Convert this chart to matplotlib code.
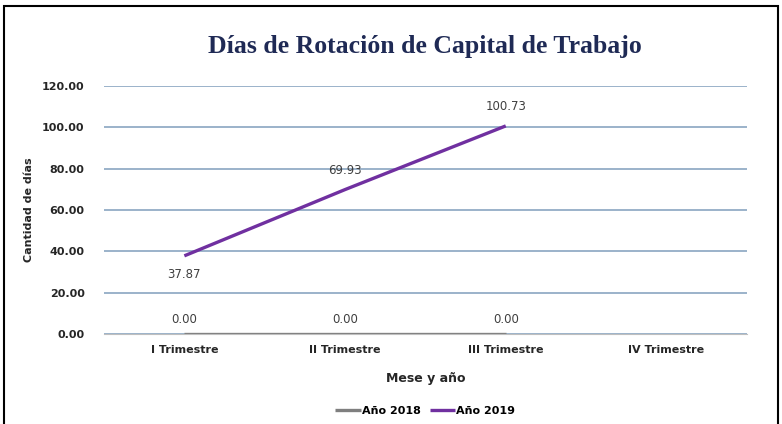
import matplotlib.pyplot as plt
from matplotlib.patches import Rectangle

# Datos
trimestres = ['I Trimestre', 'II Trimestre', 'III Trimestre', 'IV Trimestre']
anio_2018 = [0.00, 0.00, 0.00]
anio_2019 = [37.87, 69.93, 100.73]
yticks = [0, 20, 40, 60, 80, 100, 120]

fig = plt.figure(figsize=(7.82, 4.24), dpi=100)
ax = fig.add_axes([0.133, 0.212, 0.822, 0.585])

x = [i + 0.5 for i in range(len(trimestres))]
ax.plot(x[:3], anio_2018, color='#7f7f7f', lw=2.4, label='Año 2018', solid_capstyle='butt')
ax.plot(x[:3], anio_2019, color='#7030a0', lw=2.4, label='Año 2019', solid_capstyle='butt')

# Etiquetas de datos
for xi, v in zip(x, anio_2018):
    ax.annotate(f'{v:.2f}', (xi, v), xytext=(0, 6), textcoords='offset points',
                ha='center', va='bottom', fontsize=8.5, color='#404040')
offs = [-9, 9, 9]
for xi, v, o in zip(x, anio_2019, offs):
    ax.annotate(f'{v:.2f}', (xi, v), xytext=(0, o), textcoords='offset points',
                ha='center', va='top' if o < 0 else 'bottom', fontsize=8.5, color='#404040')

ax.set_xlim(0, 4)
ax.set_ylim(0, 120)
ax.set_yticks(yticks)
ax.set_yticklabels([f'{t:.2f}' for t in yticks], fontsize=8, fontweight='bold', color='#262626')
ax.set_xticks(x)
ax.set_xticklabels(trimestres, fontsize=8, fontweight='bold', color='#262626')
ax.tick_params(length=0, pad=8)
ax.tick_params(axis='y', pad=14)
ax.grid(axis='y', color='#93adc6', lw=1.3)
ax.set_axisbelow(True)
for s in ['top', 'right', 'left']:
    ax.spines[s].set_visible(False)
ax.spines['bottom'].set_color('#bfbfbf')

ax.set_ylabel('Cantidad de días', fontsize=8, fontweight='bold', color='#262626', labelpad=6)
ax.set_xlabel('Mese y año', fontsize=9, fontweight='bold', color='#262626', labelpad=12)

fig.text(0.543, 0.89, 'Días de Rotación de Capital de Trabajo', ha='center', va='center',
         fontsize=18.5, fontweight='bold', family='Liberation Serif', color='#1f2a55')

ax.legend(loc='upper center', bbox_to_anchor=(0.5, -0.25), ncol=2, frameon=False,
          handlelength=2.3, handletextpad=0.1, columnspacing=0.8,
          prop={'weight': 'bold', 'size': 8})

fig.patches.append(Rectangle((0.005, -0.01), 0.99, 0.995, transform=fig.transFigure,
                             fill=False, edgecolor='black', lw=1.5))

fig.savefig('out.png', dpi=100)
